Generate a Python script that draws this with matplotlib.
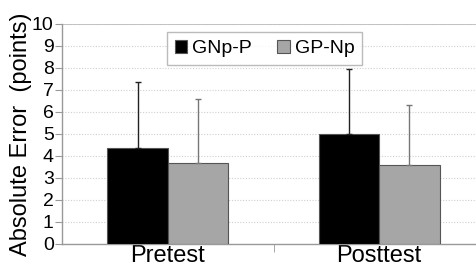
import matplotlib
matplotlib.use("Agg")
import matplotlib.pyplot as plt
import numpy as np

plt.rcParams['font.family'] = ['Liberation Sans', 'DejaVu Sans']

# data
categories = ["Pretest", "Posttest"]
series = ["GNp-P", "GP-Np"]
means_gnp = [4.38, 5.01]
means_gp = [3.70, 3.60]
err_gnp = [3.00, 2.94]
err_gp = [2.89, 2.70]
colors = ["#000000", "#a6a6a6"]
err_colors = ["#222222", "#777777"]

W, H = 476, 264
fig = plt.figure(figsize=(W / 100, H / 100), dpi=100)
# axes box in pixels: left 62, right 485, top 24, bottom 244
ax = fig.add_axes([62 / W, (H - 244) / H, (485 - 62) / W, (244 - 24) / H])

x = np.arange(len(categories))
bw = 0.285
for k, (vals, errs) in enumerate([(means_gnp, err_gnp), (means_gp, err_gp)]):
    pos = x + (k - 0.5) * bw
    ax.bar(pos, vals, width=bw, color=colors[k], edgecolor="#555555",
           linewidth=0.8, label=series[k], zorder=3)
    ax.errorbar(pos, vals, yerr=[np.zeros(len(vals)), errs], fmt="none",
                ecolor=err_colors[k], elinewidth=1.0, capsize=2, capthick=1.0,
                zorder=4)

ax.set_xlim(-0.5, 1.5)
ax.set_ylim(0, 10)
ax.set_yticks(range(0, 11))
ax.yaxis.grid(True, linestyle=(0, (1, 1.5)), color="#d0d0d0", linewidth=0.8)
ax.axhline(10, color="#bbbbbb", linewidth=1.2, zorder=2)

for s in ["top", "right"]:
    ax.spines[s].set_visible(False)
for s in ["left", "bottom"]:
    ax.spines[s].set_color("#999999")
    ax.spines[s].set_linewidth(1.0)

ax.set_xticks(x)
ax.set_xticklabels(categories, fontsize=17)
ax.tick_params(axis="x", length=0, pad=1)
ax.set_xticks([0.5], minor=True)
ax.tick_params(axis="x", which="minor", length=6, color="#999999")
ax.tick_params(axis="y", labelsize=14, length=5, color="#999999", pad=1)

ax.set_ylabel("Absolute Error  (points)", fontsize=17, labelpad=0)

leg = ax.legend(loc="upper left", bbox_to_anchor=((167 - 62) / 423, (244 - 32) / 220),
                ncol=2, fontsize=14, frameon=True, fancybox=False,
                edgecolor="#aaaaaa", handlelength=0.65, handleheight=0.65,
                handletextpad=0.25, columnspacing=1.3, borderpad=0.4,
                borderaxespad=0)
leg.get_frame().set_linewidth(1.0)
for h in leg.legend_handles:
    h.set_edgecolor("#555555")

fig.savefig("out.png", dpi=100)
